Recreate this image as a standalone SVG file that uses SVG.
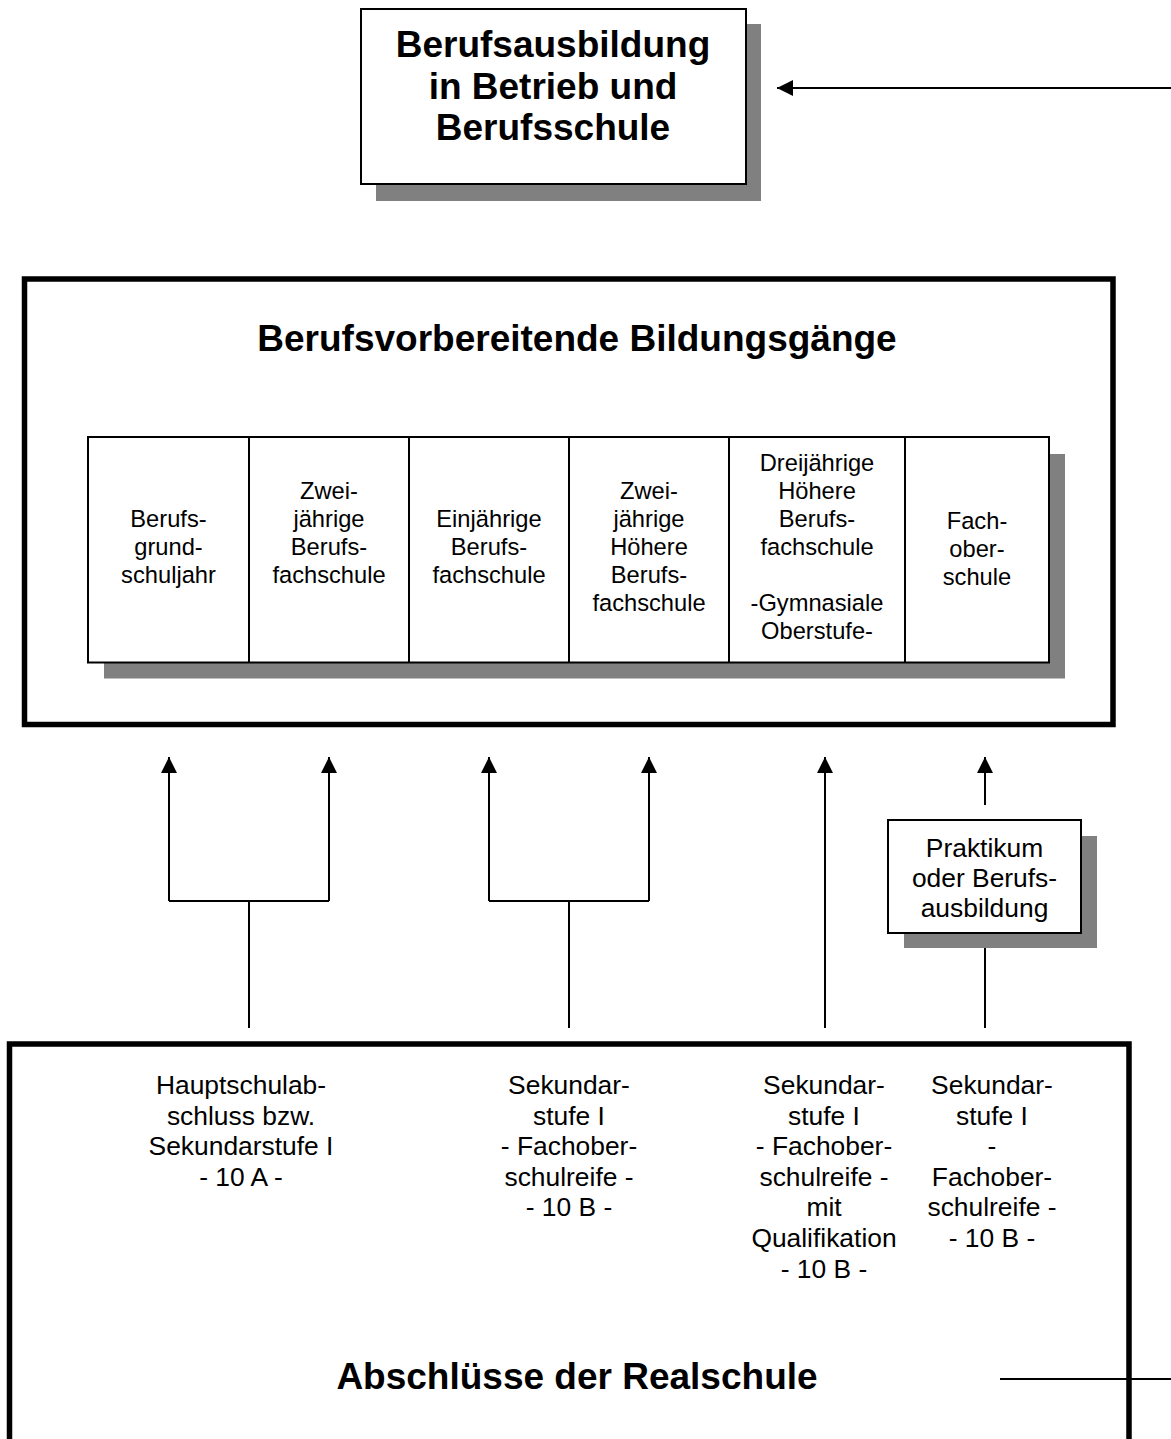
<svg xmlns="http://www.w3.org/2000/svg" width="1171" height="1439" viewBox="0 0 1171 1439">
<style>
  text { font-family: "Liberation Sans", Arial, sans-serif; fill: #000; text-anchor: middle; }
  .h { font-weight: bold; font-size: 37px; }
  .c { font-size: 23.7px; }
  .b { font-size: 26.4px; }
  .shadow { fill: #808080; stroke: none; }
  .box { fill: #fff; stroke: #000; stroke-width: 2; }
  .frame { fill: none; stroke: #000; stroke-width: 5.5; }
  .ln { fill: none; stroke: #000; stroke-width: 2; }
</style>
<defs>
  <marker id="ah" viewBox="0 0 16 16" refX="16" refY="8" markerWidth="16" markerHeight="16" markerUnits="userSpaceOnUse" orient="auto">
    <path d="M0,0 L16,8 L0,16 Z" fill="#000"/>
  </marker>
</defs>
<rect width="1171" height="1439" fill="#fff"/>

<g id="berufsausbildung">
  <rect class="shadow" x="376" y="24" width="385" height="177"/>
  <rect class="box" x="361" y="9" width="385" height="175"/>
  <text class="h" x="553" y="57">Berufsausbildung</text>
  <text class="h" x="553" y="98.5">in Betrieb und</text>
  <text class="h" x="553" y="140">Berufsschule</text>
</g>

<g id="berufsvorbereitende">
  <rect class="frame" x="24.5" y="279" width="1088.5" height="445.5"/>
  <text class="h" x="577" y="351">Berufsvorbereitende Bildungsgänge</text>
  <rect class="shadow" x="104" y="454" width="961" height="224.5"/>
  <rect class="box" x="88" y="437" width="961" height="225.5"/>
</g>

<g id="col-bgj">
  <text class="c" x="168.5" y="527">Berufs-</text>
  <text class="c" x="168.5" y="555">grund-</text>
  <text class="c" x="168.5" y="583">schuljahr</text>
</g>
<g id="col-zbfs">
  <line class="ln" x1="249" y1="437" x2="249" y2="662.5"/>
  <text class="c" x="329" y="499">Zwei-</text>
  <text class="c" x="329" y="527">jährige</text>
  <text class="c" x="329" y="555">Berufs-</text>
  <text class="c" x="329" y="583">fachschule</text>
</g>
<g id="col-ebfs">
  <line class="ln" x1="409" y1="437" x2="409" y2="662.5"/>
  <text class="c" x="489" y="527">Einjährige</text>
  <text class="c" x="489" y="555">Berufs-</text>
  <text class="c" x="489" y="583">fachschule</text>
</g>
<g id="col-zhbfs">
  <line class="ln" x1="569" y1="437" x2="569" y2="662.5"/>
  <text class="c" x="649" y="499">Zwei-</text>
  <text class="c" x="649" y="527">jährige</text>
  <text class="c" x="649" y="555">Höhere</text>
  <text class="c" x="649" y="583">Berufs-</text>
  <text class="c" x="649" y="611">fachschule</text>
</g>
<g id="col-dhbfs">
  <line class="ln" x1="729" y1="437" x2="729" y2="662.5"/>
  <text class="c" x="817" y="471">Dreijährige</text>
  <text class="c" x="817" y="499">Höhere</text>
  <text class="c" x="817" y="527">Berufs-</text>
  <text class="c" x="817" y="555">fachschule</text>
  <text class="c" x="817" y="611">-Gymnasiale</text>
  <text class="c" x="817" y="639">Oberstufe-</text>
</g>
<g id="col-fos">
  <line class="ln" x1="905" y1="437" x2="905" y2="662.5"/>
  <text class="c" x="977" y="529">Fach-</text>
  <text class="c" x="977" y="557">ober-</text>
  <text class="c" x="977" y="585">schule</text>
</g>

<g id="praktikum">
  <rect class="shadow" x="904" y="836" width="193" height="112"/>
  <rect class="box" x="888" y="820" width="193" height="113"/>
  <text class="b" x="984.5" y="857">Praktikum</text>
  <text class="b" x="984.5" y="887">oder Berufs-</text>
  <text class="b" x="984.5" y="917">ausbildung</text>
</g>

<g id="abschluesse">
  <path class="frame" d="M9.5,1439 V1044 H1129 V1439"/>
  <text class="b" x="241" y="1094">Hauptschulab-</text>
  <text class="b" x="241" y="1124.6">schluss bzw.</text>
  <text class="b" x="241" y="1155.2">Sekundarstufe I</text>
  <text class="b" x="241" y="1185.8">- 10 A -</text>

  <text class="b" x="569" y="1094">Sekundar-</text>
  <text class="b" x="569" y="1124.6">stufe I</text>
  <text class="b" x="569" y="1155.2">- Fachober-</text>
  <text class="b" x="569" y="1185.8">schulreife -</text>
  <text class="b" x="569" y="1216.4">- 10 B -</text>

  <text class="b" x="824" y="1094">Sekundar-</text>
  <text class="b" x="824" y="1124.6">stufe I</text>
  <text class="b" x="824" y="1155.2">- Fachober-</text>
  <text class="b" x="824" y="1185.8">schulreife -</text>
  <text class="b" x="824" y="1216.4">mit</text>
  <text class="b" x="824" y="1247">Qualifikation</text>
  <text class="b" x="824" y="1277.6">- 10 B -</text>

  <text class="b" x="992" y="1094">Sekundar-</text>
  <text class="b" x="992" y="1124.6">stufe I</text>
  <text class="b" x="992" y="1155.2">-</text>
  <text class="b" x="992" y="1185.8">Fachober-</text>
  <text class="b" x="992" y="1216.4">schulreife -</text>
  <text class="b" x="992" y="1247">- 10 B -</text>

  <text class="h" x="577" y="1389">Abschlüsse der Realschule</text>
</g>

<g id="connectors">
  <line class="ln" x1="1171" y1="88" x2="777" y2="88" marker-end="url(#ah)"/>
  <line class="ln" x1="1000" y1="1379" x2="1171" y2="1379"/>

  <path class="ln" d="M249,1028 V901 M169,901 H329"/>
  <line class="ln" x1="169" y1="901" x2="169" y2="757" marker-end="url(#ah)"/>
  <line class="ln" x1="329" y1="901" x2="329" y2="757" marker-end="url(#ah)"/>

  <path class="ln" d="M569,1028 V901 M489,901 H649"/>
  <line class="ln" x1="489" y1="901" x2="489" y2="757" marker-end="url(#ah)"/>
  <line class="ln" x1="649" y1="901" x2="649" y2="757" marker-end="url(#ah)"/>

  <line class="ln" x1="825" y1="1028" x2="825" y2="757" marker-end="url(#ah)"/>

  <line class="ln" x1="985" y1="805" x2="985" y2="757" marker-end="url(#ah)"/>
  <line class="ln" x1="985" y1="1028" x2="985" y2="948"/>
</g>
</svg>
